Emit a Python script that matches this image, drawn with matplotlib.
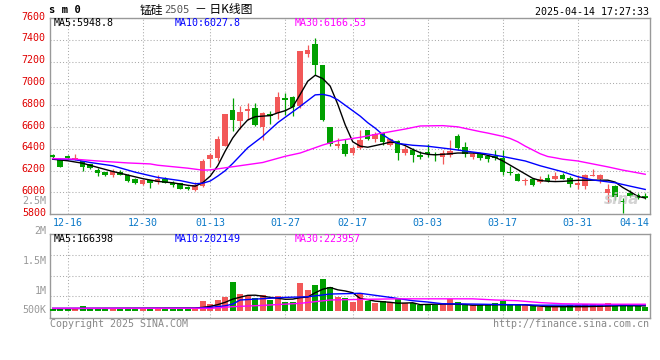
import matplotlib
matplotlib.use("Agg")
import matplotlib.pyplot as plt
from matplotlib.transforms import ScaledTranslation

# daily candles, 2024-12-12 .. 2025-04-14 (80 trading days)
opens = [6344, 6296, 6339, 6310, 6289, 6259, 6205, 6186, 6156, 6186,
         6162, 6120, 6077, 6110, 6092, 6120, 6089, 6083, 6052, 6025,
         6056, 6311, 6314, 6430, 6752, 6655, 6746, 6777, 6600, 6722,
         6728, 6868, 6880, 6789, 7270, 7361, 7166, 6600, 6424, 6442,
         6362, 6412, 6570, 6490, 6545, 6435, 6472, 6362, 6387, 6344,
         6375, 6357, 6326, 6344, 6515, 6417, 6326, 6351, 6339, 6332,
         6320, 6189, 6174, 6101, 6120, 6098, 6131, 6120, 6162, 6131,
         6070, 6061, 6150, 6122, 5997, 6061, 5924, 5997, 5976, 5967]
highs = [6351, 6320, 6348, 6351, 6292, 6265, 6223, 6190, 6211, 6205,
         6168, 6131, 6118, 6113, 6159, 6138, 6107, 6088, 6058, 6098,
         6308, 6362, 6521, 6722, 6862, 6795, 6825, 6825, 6734, 6746,
         6917, 6910, 6885, 7300, 7349, 7416, 7170, 6605, 6503, 6490,
         6424, 6576, 6575, 6551, 6558, 6503, 6485, 6424, 6412, 6381,
         6442, 6375, 6387, 6485, 6533, 6460, 6369, 6362, 6344, 6394,
         6394, 6244, 6180, 6131, 6125, 6150, 6168, 6186, 6180, 6150,
         6162, 6174, 6214, 6165, 6077, 6070, 5952, 6022, 5995, 5992]
lows = [6320, 6230, 6308, 6296, 6198, 6215, 6150, 6150, 6138, 6156,
        6100, 6077, 6072, 6040, 6079, 6083, 6052, 6028, 6024, 6013,
        6047, 6235, 6289, 6424, 6563, 6582, 6661, 6612, 6485, 6624,
        6673, 6709, 6704, 6777, 7245, 7081, 6655, 6424, 6412, 6339,
        6344, 6399, 6478, 6467, 6435, 6424, 6296, 6344, 6278, 6308,
        6326, 6289, 6259, 6326, 6394, 6326, 6308, 6302, 6284, 6296,
        6159, 6159, 6102, 6065, 6058, 6089, 6095, 6115, 6120, 6052,
        6034, 6034, 6147, 6089, 5906, 5931, 5812, 5955, 5940, 5937]
closes = [6326, 6235, 6320, 6316, 6235, 6223, 6180, 6162, 6193, 6162,
          6107, 6083, 6113, 6089, 6128, 6089, 6070, 6031, 6028, 6068,
          6289, 6344, 6490, 6716, 6661, 6740, 6764, 6618, 6728, 6704,
          6880, 6850, 6782, 7294, 7307, 7172, 6661, 6442, 6442, 6351,
          6405, 6478, 6490, 6540, 6467, 6490, 6362, 6399, 6344, 6326,
          6357, 6344, 6362, 6381, 6405, 6351, 6357, 6314, 6308, 6320,
          6189, 6180, 6107, 6110, 6070, 6128, 6101, 6152, 6125, 6077,
          6089, 6159, 6162, 6162, 6031, 5961, 5912, 5970, 5952, 5948]
volumes_k = [69, 79, 69, 59, 152, 93, 104, 79, 104, 79,
             104, 79, 69, 104, 104, 104, 79, 79, 93, 104,
             321, 231, 369, 459, 990, 562, 518, 449, 542, 369,
             518, 300, 300, 956, 714, 887, 1094, 804, 473, 438,
             311, 611, 345, 276, 321, 300, 390, 252, 252, 207,
             217, 207, 252, 414, 300, 242, 183, 207, 183, 252,
             345, 207, 183, 183, 162, 138, 138, 162, 138, 207,
             183, 242, 242, 183, 266, 162, 242, 162, 162, 138]

# moving averages (day index -> value)
ma5_days = [0, 2, 4, 6, 8, 10, 12, 14, 16, 18, 19, 20, 21, 22, 23, 24, 25, 26, 27, 28,
            29, 30, 31, 32, 33, 34, 35, 36, 37, 38, 39, 40, 41, 42, 43, 44, 45, 46, 47,
            48, 49, 50, 51, 52, 53, 54, 56, 57, 58, 59, 60, 61, 62, 63, 64, 65, 66, 67,
            68, 70, 73, 74, 75, 76, 77, 78, 79]
ma5_vals = [6305, 6291, 6268, 6230, 6193, 6160, 6127, 6102, 6089, 6066, 6058, 6090, 6150,
            6245, 6380, 6500, 6590, 6665, 6695, 6700, 6705, 6730, 6750, 6785, 6900, 7020,
            7075, 7045, 6975, 6810, 6620, 6465, 6425, 6415, 6430, 6445, 6462, 6455, 6430,
            6395, 6365, 6350, 6345, 6350, 6355, 6362, 6362, 6358, 6340, 6322, 6290, 6250,
            6210, 6170, 6130, 6110, 6103, 6100, 6102, 6112, 6113, 6113, 6095, 6046, 6007,
            5965, 5949]
ma10_days = [0, 3, 5, 8, 11, 14, 17, 19, 20, 21, 22, 23, 24, 26, 28, 30, 32, 33, 35, 36,
             37, 38, 39, 40, 41, 42, 43, 44, 45, 46, 48, 50, 53, 55, 58, 60, 63, 65, 68,
             70, 72, 75, 77, 79]
ma10_vals = [6310, 6300, 6275, 6245, 6186, 6138, 6109, 6080, 6085, 6105, 6150, 6200, 6266,
             6410, 6515, 6640, 6740, 6790, 6895, 6900, 6885, 6850, 6800, 6750, 6700, 6640,
             6590, 6530, 6485, 6450, 6433, 6424, 6399, 6380, 6353, 6330, 6289, 6245, 6190,
             6145, 6115, 6089, 6058, 6028]
ma30_days = [0, 3, 6, 10, 13, 14, 18, 20, 21, 24, 28, 31, 33, 36, 38, 41, 44, 47, 49, 52,
             54, 57, 58, 59, 60, 61, 62, 63, 64, 65, 66, 67, 68, 70, 72, 74, 76, 78, 79]
ma30_vals = [6311, 6305, 6289, 6271, 6262, 6250, 6223, 6205, 6207, 6236, 6275, 6332, 6362,
             6435, 6475, 6506, 6545, 6582, 6610, 6613, 6602, 6558, 6545, 6530, 6515, 6495,
             6465, 6425, 6390, 6355, 6330, 6318, 6305, 6289, 6262, 6235, 6205, 6180, 6167]

vma5_days = [0, 19, 20, 21, 22, 23, 24, 25, 26, 27, 28, 29, 30, 31, 32, 33, 34, 35, 36, 37,
             38, 39, 40, 41, 42, 43, 45, 46, 47, 48, 49, 51, 53, 55, 56, 58, 60, 63, 64,
             66, 71, 74, 76, 79]
vma5_k = [75, 95, 115, 150, 210, 290, 400, 465, 530, 535, 500, 460, 430, 395, 400, 450,
          470, 620, 740, 800, 720, 680, 620, 420, 380, 330, 290, 260, 265, 275, 210, 225,
          230, 215, 190, 200, 210, 205, 175, 140, 140, 160, 175, 166]
vma10_days = [0, 19, 21, 23, 24, 25, 27, 28, 31, 34, 37, 41, 43, 45, 48, 50, 52, 56, 60,
              63, 65, 72, 79]
vma10_k = [80, 85, 115, 170, 230, 370, 400, 415, 460, 480, 575, 600, 530, 460, 345, 300,
           240, 230, 210, 205, 190, 195, 202]
vma30_days = [0, 20, 21, 24, 28, 33, 37, 41, 46, 56, 59, 62, 65, 68, 73, 79]
vma30_k = [85, 85, 80, 140, 185, 255, 370, 390, 410, 410, 370, 345, 280, 240, 225, 224]

date_idx = [2, 12, 21, 31, 40, 50, 60, 70]
date_lbl = ["12-16", "12-30", "01-13", "01-27", "02-17", "03-03", "03-17", "03-31"]
last_lbl = "04-14"
price_ticks = [5800, 6000, 6200, 6400, 6600, 6800, 7000, 7200, 7400, 7600]

RED = "#f25858"
GREEN = "#00a000"
GRID = "#aaaaaa"
EDGE = "#999999"
MONO = "DejaVu Sans Mono"
FS = 7.2

W, H = 660, 360
fig = plt.figure(figsize=(W / 100, H / 100), dpi=100)


def rect(l, t, r, b):
    return [l / W, 1 - b / H, (r - l) / W, (b - t) / H]


def ftext(x, y, s, **kw):
    kw.setdefault("family", MONO)
    kw.setdefault("fontsize", FS)
    kw.setdefault("va", "center")
    fig.text(x / W, 1 - y / H, s, **kw)


ax = fig.add_axes(rect(50, 18, 649.5, 214.3))
axv = fig.add_axes(rect(50, 234.3, 649.5, 318.3))

n = len(closes)
days = list(range(n))
cols = [RED if c >= o else GREEN for o, c in zip(opens, closes)]

# candles
ax.vlines(days, lows, highs, colors=cols, lw=0.9, zorder=3)
bottoms = [min(o, c) for o, c in zip(opens, closes)]
heights = [max(abs(c - o), 8) for o, c in zip(opens, closes)]
ax.bar(days, heights, bottom=bottoms, width=0.74, color=cols, lw=0, zorder=4)
ax.plot(ma5_days, ma5_vals, color="black", lw=1.0, zorder=5)
ax.plot(ma10_days, ma10_vals, color="#0000ff", lw=1.0, zorder=5)
ax.plot(ma30_days, ma30_vals, color="#ff00ff", lw=1.0, zorder=5)

# volume
vols = [v * 1000 for v in volumes_k]
axv.bar(days, vols, width=0.76, color=cols, lw=0, zorder=3)
axv.plot(vma5_days, [v * 1000 for v in vma5_k], color="black", lw=1.0, zorder=4)
axv.plot(vma10_days, [v * 1000 for v in vma10_k], color="#0000ff", lw=1.0, zorder=4)
axv.plot(vma30_days, [v * 1000 for v in vma30_k], color="#ff00ff", lw=1.0, zorder=4)

for a in (ax, axv):
    a.set_xlim(-0.36, 79.57)
    for s in a.spines.values():
        s.set_color(EDGE)
        s.set_linewidth(1.0)
    a.set_xticks(date_idx)
    a.grid(True, color=GRID, lw=0.75, ls=(0, (1, 2)))
    a.set_axisbelow(True)
    a.tick_params(length=0)

ax.set_ylim(5800, 7600)
ax.set_yticks(price_ticks)
ax.set_yticklabels([str(p) for p in price_ticks], color="#e00000", family=MONO, fontsize=FS)
ax.tick_params(axis="y", pad=3)
# price labels sit a little above their gridlines
lift = ScaledTranslation(0, 0.025, fig.dpi_scale_trans)
for lab in ax.get_yticklabels():
    lab.set_transform(lab.get_transform() + lift)
ax.set_xticklabels(date_lbl, color="#0a78c8", family=MONO, fontsize=FS)
ax.tick_params(axis="x", pad=3)
ax.text(1.0, -0.02, last_lbl, transform=ax.transAxes, ha="right", va="top",
        color="#0a78c8", family=MONO, fontsize=FS)

axv.set_ylim(-0.26e6, 2.63e6)
axv.set_yticks([0.5e6, 1.2e6, 1.92e6])
axv.set_yticklabels([])
axv.set_xticklabels([])

# header
ftext(49, 10, "s m 0", fontweight="bold", fontsize=7.6)
ftext(140, 10, "锰硅", family=["Noto Sans CJK SC", "DejaVu Sans"], fontsize=8.5)
ftext(164, 10, "2505", color="#555555", fontsize=7.6)
ftext(195, 10, "－ 日K线图", family=["Noto Sans CJK SC", "DejaVu Sans"], fontsize=8.5)
ftext(649, 12, "2025-04-14 17:27:33", ha="right")

# legends
ftext(54, 23.5, "MA5:5948.8", color="black")
ftext(175, 23.5, "MA10:6027.8", color="#0000ff")
ftext(295, 23.5, "MA30:6166.53", color="#ff00ff")
ftext(54, 238.5, "MA5:166398", color="black")
ftext(175, 238.5, "MA10:202149", color="#0000ff")
ftext(295, 238.5, "MA30:223957", color="#ff00ff")

# volume axis labels
for y, s in [(201, "2.5M"), (230.7, "2M"), (261, "1.5M"), (290.7, "1M"), (310, "500K")]:
    ftext(46.5, y, s, ha="right", color="#999999")

ftext(50, 324, "Copyright 2025 SINA.COM", color="#888888")
ftext(649, 324, "http://finance.sina.com.cn", ha="right", color="#888888")
ftext(622, 199, "sina", family="DejaVu Sans", fontsize=11, style="italic",
      fontweight="bold", color="#c8c8c8", alpha=0.8, ha="center")

fig.savefig("out.png", dpi=100)
